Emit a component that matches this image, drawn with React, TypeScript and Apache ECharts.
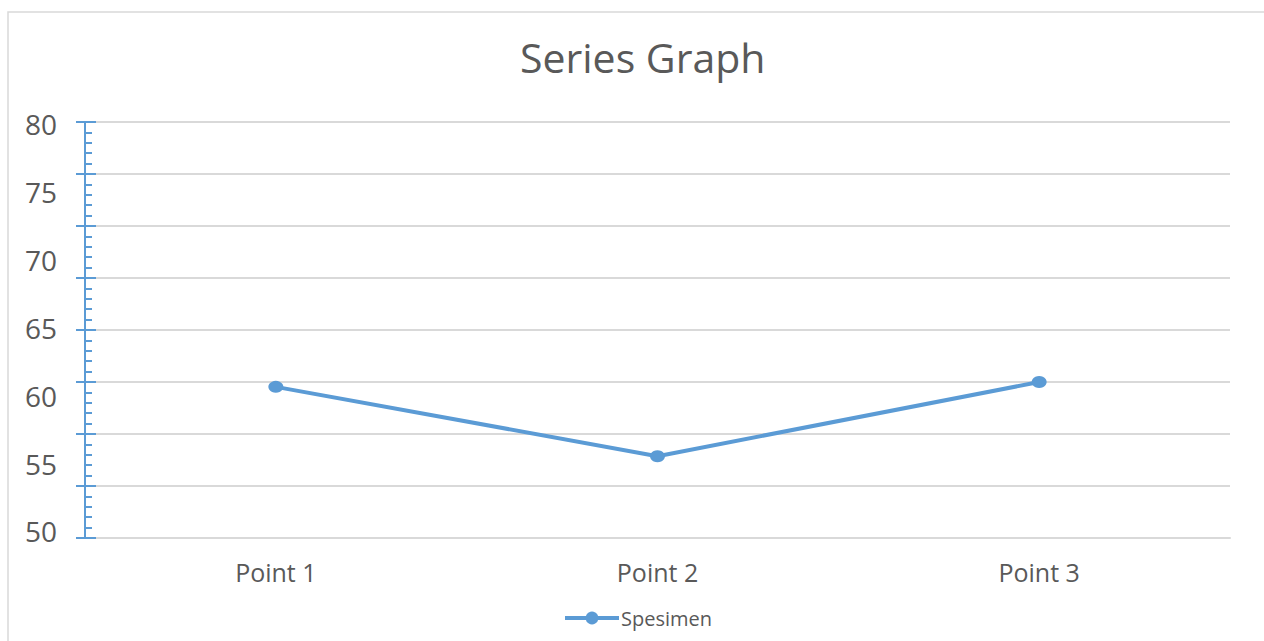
import React, { useEffect, useRef } from "react";
import * as echarts from "echarts";

const categories = ["Point 1", "Point 2", "Point 3"];
const seriesName = "Spesimen";
const values = [60.9, 55.9, 61.25];
const yLabelValues = [50, 55, 60, 65, 70, 75, 80];
const titleText = "Series Graph";

const BLUE = "#5B9BD5";
const GRID = "#D9D9D9";
const TEXT = "#595959";
const FONT = "'Open Sans', sans-serif";

export default function App() {
  const ref = useRef<HTMLDivElement>(null);
  useEffect(() => {
    if (!ref.current) return;
    const chart = echarts.init(ref.current, null, { renderer: "svg" });
    chart.setOption({
      animation: false,
      backgroundColor: "#ffffff",
      textStyle: { fontFamily: FONT },
      graphic: [
        {
          type: "rect",
          shape: { x: 8, y: 12, width: 1400, height: 800 },
          style: { fill: "none", stroke: GRID, lineWidth: 1.5 },
          silent: true,
          z: -10,
        },
      ],
      title: {
        text: titleText,
        left: 520,
        top: 36,
        padding: 0,
        textStyle: { fontFamily: FONT, fontSize: 41, fontWeight: "normal", color: TEXT },
      },
      legend: {
        left: 563,
        top: 608,
        padding: 0,
        itemWidth: 54,
        itemHeight: 16,
        itemGap: 10,
        textStyle: { fontFamily: FONT, fontSize: 20, color: TEXT, padding: [0, 0, 0, -3] },
        data: [
          {
            name: seriesName,
            lineStyle: { width: 4, color: BLUE },
            itemStyle: { color: BLUE },
          },
        ],
      },
      grid: { left: 85, right: 34, top: 122, bottom: 103 },
      xAxis: {
        type: "category",
        data: categories,
        boundaryGap: true,
        axisLine: { show: true, lineStyle: { color: GRID, width: 2 } },
        axisTick: { show: false },
        axisLabel: { fontFamily: FONT, fontSize: 25, color: TEXT, margin: 21 },
        splitLine: { show: false },
      },
      yAxis: [
        {
          type: "value",
          min: 50,
          max: 80,
          interval: 3.75,
          position: "left",
          axisLine: { show: true, lineStyle: { color: BLUE, width: 2 } },
          axisTick: { show: true, inside: true, length: 11, lineStyle: { color: BLUE, width: 2 } },
          minorTick: { show: true, splitNumber: 5, length: 7, lineStyle: { color: BLUE, width: 2 } },
          axisLabel: { show: false },
          splitLine: { show: true, lineStyle: { color: GRID, width: 2 } },
          z: 3,
        },
        {
          type: "value",
          min: 50,
          max: 80,
          interval: 3.75,
          position: "left",
          axisLine: { show: false },
          axisTick: { show: true, inside: false, length: 9, lineStyle: { color: BLUE, width: 2 } },
          axisLabel: { show: false },
          splitLine: { show: false },
        },
        {
          type: "value",
          min: 49.52,
          max: 80.18,
          position: "left",
          axisLine: { show: false },
          axisTick: { show: false },
          splitLine: { show: false },
          axisLabel: {
            show: true,
            customValues: yLabelValues,
            fontFamily: FONT,
            fontSize: 28,
            color: TEXT,
            margin: 28,
          },
        },
      ],
      series: [
        {
          name: seriesName,
          type: "line",
          yAxisIndex: 0,
          data: values,
          symbol: "circle",
          symbolSize: [15, 12],
          lineStyle: { color: BLUE, width: 4 },
          itemStyle: { color: BLUE },
        },
      ],
    });
    return () => chart.dispose();
  }, []);
  return (
    <div
      ref={ref}
      style={{ position: "fixed", left: 0, top: 0, width: 1264, height: 641 }}
    />
  );
}
